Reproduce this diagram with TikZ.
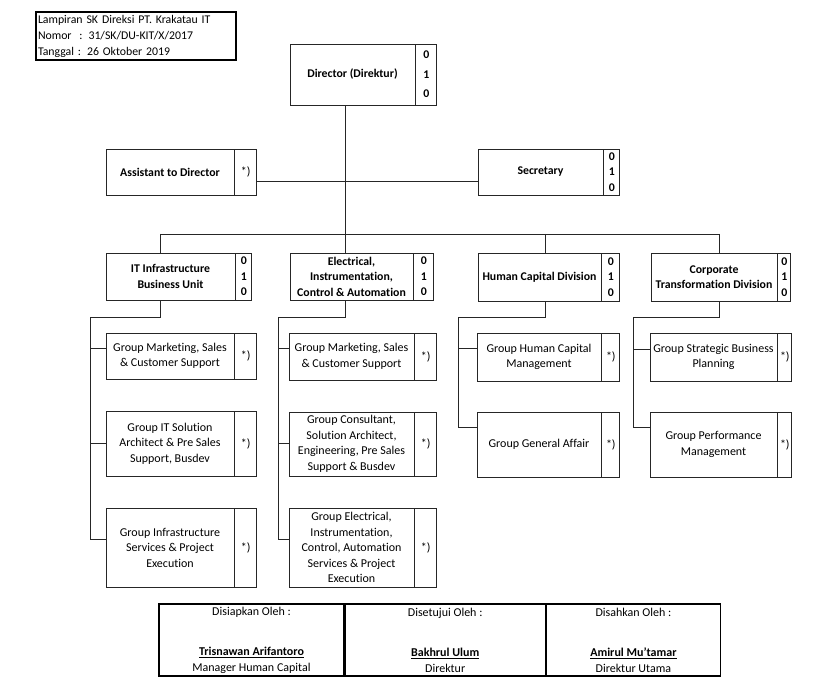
\documentclass[tikz,border=0pt]{standalone}
\usepackage{fontspec}
\setmainfont{Carlito}[Ligatures={NoCommon}]
\usepackage{tikz}
\usetikzlibrary{positioning}
\newcommand{\unitfont}{\fontsize{12}{15.5}\selectfont}
\newcommand{\headfont}{\fontsize{11.8}{15.5}\selectfont\bfseries}
\tikzstyle{memo} = [rectangle, draw=black, line width=1.1pt, align=left, text width=196pt, inner sep=2pt, font=\fontsize{11.8}{16}\selectfont]
\tikzstyle{unit} = [rectangle, draw=black!85, line width=0.8pt, align=center, inner sep=1pt, font=\unitfont]
\tikzstyle{head} = [unit, font=\headfont]
\tikzstyle{code} = [rectangle, draw=black!85, line width=0.8pt, align=center, inner sep=0pt, font=\headfont]
\tikzstyle{note} = [code, font=\unitfont]
\tikzstyle{sign} = [rectangle, draw=black, line width=1.2pt, align=center, inner sep=0pt, font=\unitfont]
\tikzstyle{link} = [line width=0.8pt, draw=black!85]

\begin{document}
\begin{tikzpicture}[x=1pt, y=-1pt]
        \useasboundingbox [fill=white] (0,0) rectangle (832,692);

        \node (memo) [memo, minimum height=48pt] at (136,36) {Lampiran SK Direksi PT. Krakatau IT\\Nomor\ \ : 31/SK/DU-KIT/X/2017\\Tanggal : 26 Oktober 2019};

        % top
        \node (dir) [head, minimum width=125pt, minimum height=61pt] at (352.5,74.5) {Director (Direktur)};
        \node (dir-n) [code, right=0pt of dir, minimum width=21pt, minimum height=61pt] {0\\[4pt]1\\[4pt]0};
        \node (asst) [head, minimum width=128pt, minimum height=46pt] at (170,172) {Assistant to Director};
        \node (asst-n) [note, right=0pt of asst, minimum width=22pt, minimum height=46pt] {*)};
        \node (secr) [head, minimum width=125pt, minimum height=46pt] at (540.5,172) {Secretary};
        \node (secr-n) [code, right=0pt of secr, minimum width=16pt, minimum height=46pt] {0\\1\\0};

        % divisions
        \node (it) [head, minimum width=129pt, minimum height=47pt] at (170.5,276.5) {IT Infrastructure\\Business Unit};
        \node (it-n) [code, right=0pt of it, minimum width=16pt, minimum height=47pt] {0\\1\\0};
        \node (elec) [head, minimum width=123pt, minimum height=47pt] at (351.5,276.5) {Electrical,\\Instrumentation,\\Control \& Automation};
        \node (elec-n) [code, right=0pt of elec, minimum width=20pt, minimum height=47pt] {0\\1\\0};
        \node (hcd) [head, minimum width=123pt, minimum height=48pt] at (539.5,277) {Human Capital Division};
        \node (hcd-n) [code, right=0pt of hcd, minimum width=18pt, minimum height=48pt] {0\\1\\0};
        \node (ctd) [head, minimum width=126pt, minimum height=48pt] at (714,277) {Corporate\\Transformation Division};
        \node (ctd-n) [code, right=0pt of ctd, minimum width=13pt, minimum height=48pt] {0\\1\\0};

        % groups
        \node (g11) [unit, minimum width=128pt, minimum height=46pt] at (170,356) {Group Marketing, Sales\\\& Customer Support};
        \node (g11-n) [note, right=0pt of g11, minimum width=22pt, minimum height=46pt] {*)};
        \node (g12) [unit, minimum width=128pt, minimum height=65pt] at (170,443.5) {Group IT Solution\\Architect \& Pre Sales\\Support, Busdev};
        \node (g12-n) [note, right=0pt of g12, minimum width=22pt, minimum height=65pt] {*)};
        \node (g13) [unit, minimum width=128pt, minimum height=79pt] at (170,547.5) {Group Infrastructure\\Services \& Project\\Execution};
        \node (g13-n) [note, right=0pt of g13, minimum width=22pt, minimum height=79pt] {*)};

        \node (g21) [unit, minimum width=125pt, minimum height=47pt] at (351.5,356.5) {Group Marketing, Sales\\\& Customer Support};
        \node (g21-n) [note, right=0pt of g21, minimum width=22pt, minimum height=47pt] {*)};
        \node (g22) [unit, minimum width=125pt, minimum height=64pt] at (351.5,444) {Group Consultant,\\Solution Architect,\\Engineering, Pre Sales\\Support \& Busdev};
        \node (g22-n) [note, right=0pt of g22, minimum width=22pt, minimum height=64pt] {*)};
        \node (g23) [unit, minimum width=125pt, minimum height=79pt] at (351.5,547.5) {Group Electrical,\\Instrumentation,\\Control, Automation\\Services \& Project\\Execution};
        \node (g23-n) [note, right=0pt of g23, minimum width=22pt, minimum height=79pt] {*)};

        \node (g31) [unit, minimum width=124pt, minimum height=48pt] at (539,357) {Group Human Capital\\Management};
        \node (g31-n) [note, right=0pt of g31, minimum width=18pt, minimum height=48pt] {*)};
        \node (g32) [unit, minimum width=124pt, minimum height=65pt] at (539,444.5) {Group General Affair};
        \node (g32-n) [note, right=0pt of g32, minimum width=18pt, minimum height=65pt] {*)};

        \node (g41) [unit, minimum width=127pt, minimum height=48pt] at (713.5,357) {Group Strategic Business\\Planning};
        \node (g41-n) [note, right=0pt of g41, minimum width=14pt, minimum height=48pt] {*)};
        \node (g42) [unit, minimum width=127pt, minimum height=65pt] at (713.5,444.5) {Group Performance\\Management};
        \node (g42-n) [note, right=0pt of g42, minimum width=14pt, minimum height=65pt] {*)};

        % signatures
        \node (prep) [sign, minimum width=185pt, minimum height=72pt] at (251.5,640) {Disiapkan Oleh :\\[25pt]\textbf{\underline{Trisnawan Arifantoro}}\\Manager Human Capital};
        \node (appr) [sign, right=0pt of prep, minimum width=200pt, minimum height=72pt] {Disetujui Oleh :\\[25pt]\textbf{\underline{Bakhrul Ulum}}\\Direktur};
        \node (auth) [sign, right=0pt of appr, minimum width=174pt, minimum height=72pt] {Disahkan Oleh :\\[25pt]\textbf{\underline{Amirul Mu'tamar}}\\Direktur Utama};

        % lines
        \coordinate (b1) at (160,234);
        \coordinate (b2) at (345,234);
        \coordinate (b3) at (545,234);
        \coordinate (b4) at (719,234);
        \coordinate (sa) at ([yshift=-9pt]asst-n.east);
        \draw [link] (b2 |- dir.south) -- (b2 |- elec.north);
        \draw [link] (sa) -- (sa -| secr.west);
        \draw [link] (b1) -- (b4);
        \draw [link] (b1) -- (b1 |- it.north);
        \draw [link] (b3) -- (b3 |- hcd.north);
        \draw [link] (b4) -- (b4 |- ctd.north);

        \coordinate (r1) at (90,317);
        \coordinate (s11) at ([yshift=8pt]g11.west);
        \coordinate (s12) at (g12.west);
        \coordinate (s13) at ([yshift=8.5pt]g13.west);
        \draw [link] (b1 |- it.south) |- (r1) |- (s13);
        \draw [link] (r1 |- s11) -- (s11);
        \draw [link] (r1 |- s12) -- (s12);

        \coordinate (r2) at (278,317);
        \coordinate (s21) at ([yshift=8.5pt]g21.west);
        \coordinate (s22) at ([yshift=1pt]g22.west);
        \coordinate (s23) at ([yshift=8.5pt]g23.west);
        \draw [link] (b2 |- elec.south) |- (r2) |- (s23);
        \draw [link] (r2 |- s21) -- (s21);
        \draw [link] (r2 |- s22) -- (s22);

        \coordinate (r3) at (458,317);
        \coordinate (s31) at ([yshift=9pt]g31.west);
        \coordinate (s32) at ([yshift=17.5pt]g32.west);
        \draw [link] (b3 |- hcd.south) |- (r3) |- (s32);
        \draw [link] (r3 |- s31) -- (s31);

        \coordinate (r4) at (633,317);
        \coordinate (s41) at ([yshift=8pt]g41.west);
        \coordinate (s42) at ([yshift=17.5pt]g42.west);
        \draw [link] (b4 |- ctd.south) |- (r4) |- (s42);
        \draw [link] (r4 |- s41) -- (s41);
\end{tikzpicture}
\end{document}
